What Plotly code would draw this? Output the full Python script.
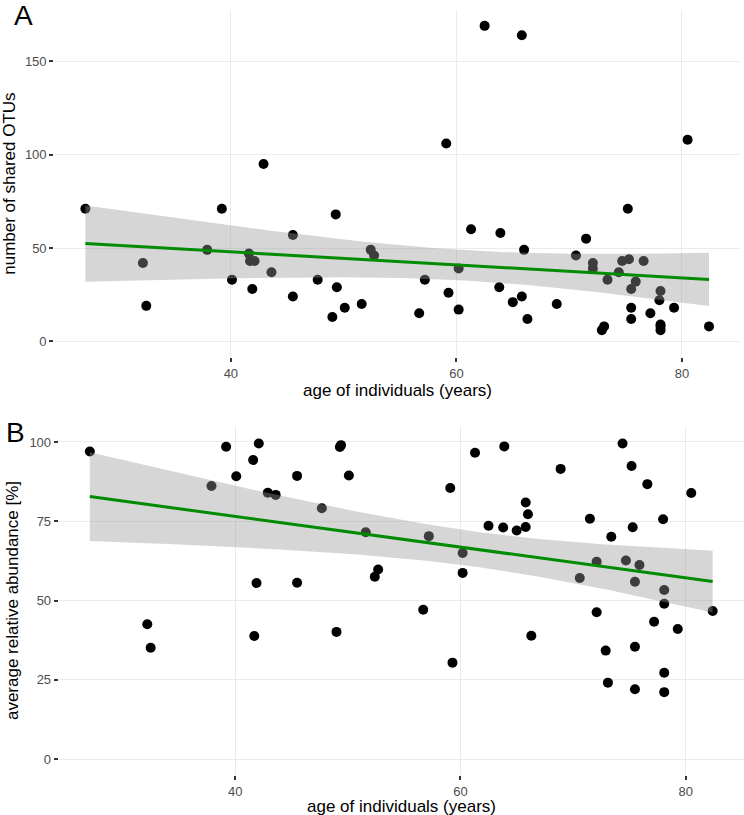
import numpy as np
import plotly.graph_objects as go

# ---------------- data ----------------
age = [27.1, 32.2, 32.5, 37.9, 39.2, 40.1, 41.6, 41.7, 41.9, 42.1,
       42.9, 43.6, 45.5, 45.5, 47.7, 49.3, 49.4, 49.0, 50.1, 51.6,
       52.4, 52.7, 56.7, 57.2, 59.1, 59.3, 60.2, 60.2, 61.3, 62.5,
       63.8, 63.9, 65.0, 65.8, 65.8, 66.0, 66.3, 68.9, 70.6, 71.5,
       72.1, 72.1, 72.9, 73.1, 73.4, 74.4, 74.7, 75.2, 75.3, 75.5,
       75.5, 75.5, 75.9, 76.6, 77.2, 78.0, 78.1, 78.1, 78.1, 78.1,
       79.3, 80.5, 82.4]

shared_otus = [71, 42, 19, 49, 71, 33, 47, 43, 28, 43,
               95, 37, 57, 24, 33, 68, 29, 13, 18, 20,
               49, 46, 15, 33, 106, 26, 39, 17, 60, 169,
               29, 58, 21, 164, 24, 49, 12, 20, 46, 55,
               42, 39, 6, 8, 33, 37, 43, 71, 44, 28,
               18, 12, 32, 43, 15, 22, 27, 9, 6, 8,
               18, 108, 8]

rel_abund = [97.0, 42.5, 35.1, 86.1, 98.5, 89.2, 94.3, 38.8, 55.5, 99.5,
             84.0, 83.3, 89.3, 55.6, 79.1, 98.4, 99.0, 40.1, 89.4, 71.5,
             57.5, 59.8, 47.1, 70.3, 85.5, 30.4, 65.0, 58.7, 96.6, 73.6,
             73.0, 98.6, 72.1, 80.9, 73.2, 77.2, 38.9, 91.5, 57.1, 75.8,
             62.2, 46.3, 34.2, 24.1, 70.1, 99.5, 62.6, 92.4, 73.1, 55.9,
             35.4, 22.0, 61.2, 86.7, 43.3, 75.6, 53.3, 49.0, 27.2, 21.1,
             41.0, 83.9, 46.7]

x_ticks = [40, 60, 80]
yA_ticks = [0, 50, 100, 150]
yB_ticks = [0, 25, 50, 75, 100]

panel_labels = ["A", "B"]
x_title = "age of individuals (years)"
yA_title = "number of shared OTUs"
yB_title = "average relative abundance [%]"

# ---------------- style ----------------
W, H = 744, 815
FONT = "Liberation Sans, Arial, sans-serif"
GRID = "#ebebeb"
TICKC = "#333333"
TICKLAB = "#4d4d4d"
LINEC = "#008B00"
BAND = "rgba(153,153,153,0.4)"
T975 = 1.9996  # t quantile, df = n - 2 = 61


def lm_band(x, y, n_grid=80):
    x = np.asarray(x, float)
    y = np.asarray(y, float)
    n = len(x)
    b1, b0 = np.polyfit(x, y, 1)
    res = y - (b0 + b1 * x)
    s = np.sqrt(np.sum(res ** 2) / (n - 2))
    xm = x.mean()
    sxx = np.sum((x - xm) ** 2)
    xg = np.linspace(x.min(), x.max(), n_grid)
    yg = b0 + b1 * xg
    se = s * np.sqrt(1.0 / n + (xg - xm) ** 2 / sxx)
    return xg, yg, yg - T975 * se, yg + T975 * se


def expand(lo, hi, f=0.05):
    r = hi - lo
    return [lo - f * r, hi + f * r]


fig = go.Figure()

panels = [
    ("x", "y", shared_otus),
    ("x2", "y2", rel_abund),
]

for xa, ya, yv in panels:
    fig.add_trace(go.Scatter(
        x=age, y=yv, mode="markers", xaxis=xa, yaxis=ya,
        marker=dict(color="black", size=10, line=dict(width=0)),
        showlegend=False, hoverinfo="skip"))
    xg, yg, lo, hi = lm_band(age, yv)
    fig.add_trace(go.Scatter(
        x=np.concatenate([xg, xg[::-1]]), y=np.concatenate([hi, lo[::-1]]),
        mode="lines", fill="toself", fillcolor=BAND, line=dict(width=0),
        xaxis=xa, yaxis=ya, showlegend=False, hoverinfo="skip"))
    fig.add_trace(go.Scatter(
        x=xg, y=yg, mode="lines", line=dict(color=LINEC, width=3),
        xaxis=xa, yaxis=ya, showlegend=False, hoverinfo="skip"))

xr = expand(min(age), max(age))
yAr = expand(0, max(shared_otus))
yBr = expand(0, 100)

common_x = dict(
    range=xr, tickvals=x_ticks, showgrid=True, gridcolor=GRID, gridwidth=1,
    zeroline=False, showline=False, ticks="outside", ticklen=4, tickwidth=1.5,
    tickcolor=TICKC, tickfont=dict(family=FONT, size=13, color=TICKLAB),
    automargin=False,
)
common_y = dict(
    showgrid=True, gridcolor=GRID, gridwidth=1, zeroline=False, showline=False,
    ticks="outside", ticklen=4, tickwidth=1.5, tickcolor=TICKC,
    tickfont=dict(family=FONT, size=13, color=TICKLAB), automargin=False,
)

title_font = dict(family=FONT, size=17, color="black")

fig.update_layout(
    width=W, height=H, margin=dict(l=0, r=0, t=0, b=0),
    paper_bgcolor="white", plot_bgcolor="white",
    font=dict(family=FONT),
    xaxis=dict(common_x, domain=[54.2 / W, 740.2 / W], anchor="y"),
    yaxis=dict(common_y, domain=[1 - 357.1 / H, 1 - 10.1 / H], anchor="x",
               range=yAr, tickvals=yA_ticks,
               title=dict(text=yA_title, font=title_font, standoff=6)),
    xaxis2=dict(common_x, domain=[58.7 / W, 743.8 / W], anchor="y2"),
    yaxis2=dict(common_y, domain=[1 - 774.9 / H, 1 - 426.1 / H], anchor="x2",
                range=yBr, tickvals=yB_ticks,
                title=dict(text=yB_title, font=title_font, standoff=6)),
    annotations=[
        dict(text=panel_labels[0], x=12 / W, y=1 + 2 / H, xref="paper", yref="paper",
             xanchor="left", yanchor="top", showarrow=False,
             font=dict(family=FONT, size=28, color="black")),
        dict(text=panel_labels[1], x=4 / W, y=1 - 415 / H, xref="paper", yref="paper",
             xanchor="left", yanchor="top", showarrow=False,
             font=dict(family=FONT, size=28, color="black")),
        dict(text=x_title, x=(54.2 + 740.2) / 2 / W, y=1 - 390 / H, xref="paper", yref="paper",
             xanchor="center", yanchor="middle", showarrow=False, font=title_font),
        dict(text=x_title, x=(58.7 + 743.8) / 2 / W, y=1 - 806 / H, xref="paper", yref="paper",
             xanchor="center", yanchor="middle", showarrow=False, font=title_font),
    ],
)

fig.write_html("out.html")
